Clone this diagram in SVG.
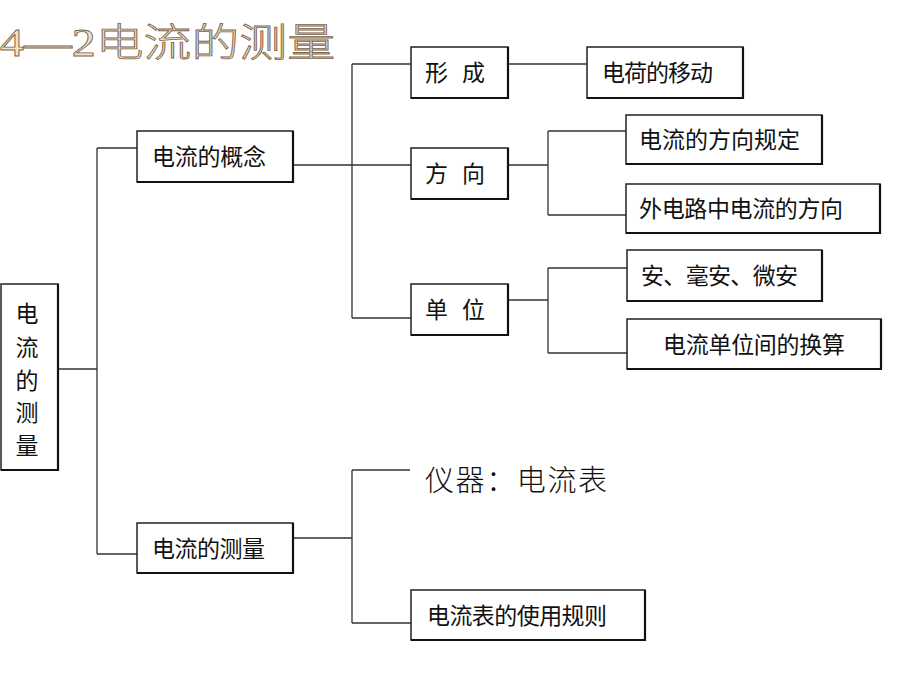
<svg xmlns="http://www.w3.org/2000/svg" width="920" height="690" viewBox="0 0 920 690">
<style>
.box{fill:#fff;stroke:#222;stroke-width:1.5}
.sh{fill:none;stroke:#111;stroke-width:2.2}
.t{font-family:"Noto Sans CJK SC","Noto Sans",sans-serif;font-size:23px;fill:#111}
.ln{fill:none;stroke:#333;stroke-width:1.3}
.title{font-family:"Liberation Serif","Noto Sans CJK SC",serif;font-size:39px;font-weight:300;fill:#f1e4c9;stroke:#7a6248;stroke-width:0.8}
.big{font-family:"Liberation Serif","Noto Sans CJK SC",serif;font-size:29px;fill:#111;font-weight:300}
</style>
<rect width="920" height="690" fill="#fff"/>
<text class="title" x="0" y="56" textLength="335" lengthAdjust="spacingAndGlyphs">4—2电流的测量</text>

<g id="connectors">
<path class="ln" d="M58,369H97M97,148V554M97,148H137M97,554H137"/>
<path class="ln" d="M293,165H411M352,64V318M352,64H411M352,318H411"/>
<path class="ln" d="M508,64H587"/>
<path class="ln" d="M508,165H548M548,131V215M548,131H626M548,215H626"/>
<path class="ln" d="M508,300H548M548,268V353M548,268H627M548,353H627"/>
<path class="ln" d="M293,538H352M352,470V623M352,470H410M352,623H411"/>
</g>

<g id="root">
<rect class="box" x="1" y="284" width="57" height="186"/>
<path class="sh" d="M58,284V470H1"/>
<text class="t" text-anchor="middle"><tspan x="27" y="322">电</tspan><tspan x="27" y="356">流</tspan><tspan x="27" y="389">的</tspan><tspan x="27" y="421">测</tspan><tspan x="27" y="454">量</tspan></text>
</g>

<g id="concept">
<rect class="box" x="137" y="131" width="156" height="51"/>
<path class="sh" d="M293,131V182H137"/>
<text class="t" x="152" y="165" textLength="114">电流的概念</text>
</g>

<g id="xingcheng">
<rect class="box" x="411" y="47" width="97" height="51"/>
<path class="sh" d="M508,47V98H411"/>
<text class="t" y="81"><tspan x="425">形</tspan><tspan x="462">成</tspan></text>
</g>

<g id="move">
<rect class="box" x="587" y="47" width="156" height="51"/>
<path class="sh" d="M743,47V98H587"/>
<text class="t" x="602" y="81" textLength="111">电荷的移动</text>
</g>

<g id="fangxiang">
<rect class="box" x="411" y="148" width="97" height="51"/>
<path class="sh" d="M508,148V199H411"/>
<text class="t" y="182"><tspan x="425">方</tspan><tspan x="462">向</tspan></text>
</g>

<g id="dir-rule">
<rect class="box" x="626" y="115" width="196" height="49"/>
<path class="sh" d="M822,115V164H626"/>
<text class="t" x="639" y="148" textLength="161">电流的方向规定</text>
</g>

<g id="dir-ext">
<rect class="box" x="626" y="184" width="254" height="49"/>
<path class="sh" d="M880,184V233H626"/>
<text class="t" x="639" y="217" textLength="204">外电路中电流的方向</text>
</g>

<g id="danwei">
<rect class="box" x="411" y="284" width="97" height="51"/>
<path class="sh" d="M508,284V335H411"/>
<text class="t" y="318"><tspan x="425">单</tspan><tspan x="462">位</tspan></text>
</g>

<g id="units">
<rect class="box" x="627" y="250" width="195" height="51"/>
<path class="sh" d="M822,250V301H627"/>
<text class="t" x="641" y="284" textLength="157">安、毫安、微安</text>
</g>

<g id="convert">
<rect class="box" x="627" y="319" width="254" height="50"/>
<path class="sh" d="M881,319V369H627"/>
<text class="t" x="663" y="353" textLength="182">电流单位间的换算</text>
</g>

<g id="measure">
<rect class="box" x="137" y="523" width="156" height="50"/>
<path class="sh" d="M293,523V573H137"/>
<text class="t" x="152" y="557" textLength="113">电流的测量</text>
</g>

<g id="instrument">
<text class="big" x="425" y="491" textLength="182">仪器：电流表</text>
</g>

<g id="rules">
<rect class="box" x="411" y="590" width="234" height="50"/>
<path class="sh" d="M645,590V640H411"/>
<text class="t" x="427" y="624" textLength="180">电流表的使用规则</text>
</g>
</svg>
